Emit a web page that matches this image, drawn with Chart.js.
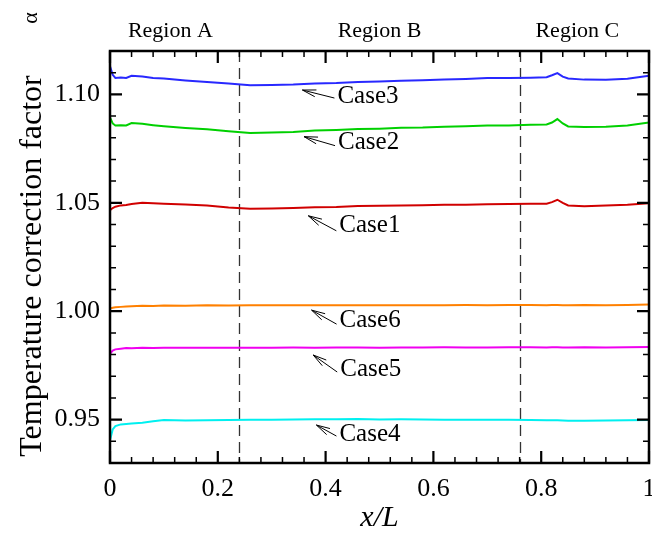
<!DOCTYPE html>
<html>
<head>
<meta charset="utf-8">
<script src="https://cdn.jsdelivr.net/npm/chart.js@4/dist/chart.umd.min.js"></script>
<style>
  html, body { margin: 0; padding: 0; background: #fff; }
  #wrap { width: 652px; height: 535px; }
</style>
</head>
<body>
<div id="wrap"><canvas id="chart" width="652" height="535"></canvas></div>
<script>
// Sample positions along the channel (x/L)
const xPos = [0, 0.005, 0.01, 0.02, 0.03, 0.04, 0.06, 0.08, 0.1, 0.14, 0.18, 0.22, 0.26, 0.3,
  0.34, 0.38, 0.42, 0.46, 0.5, 0.54, 0.58, 0.62, 0.66, 0.7, 0.74, 0.78, 0.81, 0.82, 0.83,
  0.84, 0.85, 0.88, 0.92, 0.96, 1.0];

// Temperature correction factor for each case
const case1 = [1.0466, 1.0476, 1.0482, 1.0488, 1.0490, 1.0494, 1.0500, 1.0498, 1.0496, 1.0492,
  1.0487, 1.0478, 1.0472, 1.0474, 1.0476, 1.0480, 1.0481, 1.0485, 1.0486, 1.0488, 1.0489,
  1.0491, 1.0491, 1.0493, 1.0494, 1.0496, 1.0496, 1.0503, 1.0514, 1.0500, 1.0488, 1.0484,
  1.0487, 1.0491, 1.0498];
const case2 = [1.0894, 1.0866, 1.0856, 1.0858, 1.0857, 1.0868, 1.0864, 1.0858, 1.0853, 1.0845,
  1.0839, 1.0830, 1.0822, 1.0824, 1.0827, 1.0833, 1.0836, 1.0840, 1.0842, 1.0846, 1.0847,
  1.0851, 1.0853, 1.0856, 1.0857, 1.0860, 1.0861, 1.0870, 1.0886, 1.0866, 1.0852, 1.0850,
  1.0851, 1.0856, 1.0870];
const case3 = [1.1130, 1.1090, 1.1076, 1.1078, 1.1076, 1.1086, 1.1082, 1.1076, 1.1073, 1.1064,
  1.1057, 1.1050, 1.1042, 1.1043, 1.1045, 1.1050, 1.1052, 1.1057, 1.1059, 1.1063, 1.1065,
  1.1069, 1.1071, 1.1075, 1.1076, 1.1077, 1.1079, 1.1088, 1.1098, 1.1082, 1.1073, 1.1068,
  1.1067, 1.1072, 1.1086];
const case4 = [0.9405, 0.9455, 0.9470, 0.9478, 0.9480, 0.9482, 0.9486, 0.9492, 0.9498, 0.9496,
  0.9497, 0.9498, 0.9499, 0.9499, 0.9501, 0.9502, 0.9502, 0.9503, 0.9501, 0.9502, 0.9501,
  0.9500, 0.9500, 0.9499, 0.9499, 0.9498, 0.9497, 0.9497, 0.9497, 0.9496, 0.9495, 0.9495,
  0.9496, 0.9497, 0.9498];
const case5 = [0.9804, 0.9818, 0.9824, 0.9827, 0.9830, 0.9829, 0.9831, 0.9830, 0.9832, 0.9831,
  0.9832, 0.9832, 0.9831, 0.9832, 0.9833, 0.9832, 0.9833, 0.9833, 0.9832, 0.9833, 0.9833,
  0.9834, 0.9833, 0.9833, 0.9834, 0.9834, 0.9833, 0.9834, 0.9834, 0.9833, 0.9833, 0.9834,
  0.9833, 0.9834, 0.9835];
const case6 = [1.0012, 1.0016, 1.0018, 1.0020, 1.0022, 1.0023, 1.0025, 1.0024, 1.0026, 1.0025,
  1.0027, 1.0026, 1.0028, 1.0027, 1.0027, 1.0028, 1.0027, 1.0028, 1.0028, 1.0027, 1.0028,
  1.0028, 1.0029, 1.0028, 1.0029, 1.0029, 1.0028, 1.0029, 1.0029, 1.0028, 1.0028, 1.0029,
  1.0028, 1.0029, 1.0031];

const caseNames = ['Case1', 'Case2', 'Case3', 'Case4', 'Case5', 'Case6'];
const caseColors = ['#d00000', '#00d000', '#2828ff', '#00f0f0', '#f000f0', '#ff8000'];

// Axis ticks
const xTickValues = [0, 0.2, 0.4, 0.6, 0.8, 1];
const yTickValues = [0.95, 1.00, 1.05, 1.10];

// Region boundaries and names
const regionBounds = [0.24, 0.76];
const regionNames = ['Region A', 'Region B', 'Region C'];

const SERIF = '"Liberation Serif", "Times New Roman", serif';

const seriesValues = [case1, case2, case3, case4, case5, case6];
const datasets = seriesValues.map((vals, i) => ({
  label: caseNames[i],
  data: vals.map((v, j) => ({ x: xPos[j], y: v })),
  borderColor: caseColors[i],
  backgroundColor: caseColors[i],
  borderWidth: 2,
  pointRadius: 0,
  tension: 0,
  fill: false
}));

// Arrow tip for each case label (data coords), offset of the arrow tail (px)
// and vertical offset of the label centre from the tip (px)
const labelAnchors = {
  Case3: { x: 0.357, y: 1.1020, dx: 32, dy: 8, ty: 5 },
  Case2: { x: 0.360, y: 1.0805, dx: 31, dy: 9, ty: 5 },
  Case1: { x: 0.368, y: 1.0440, dx: 28, dy: 15, ty: 9 },
  Case6: { x: 0.374, y: 1.0005, dx: 25, dy: 14, ty: 9 },
  Case5: { x: 0.377, y: 0.9798, dx: 24, dy: 17, ty: 13 },
  Case4: { x: 0.383, y: 0.9475, dx: 20, dy: 11, ty: 8 }
};
const regionLabelX = [0.112, 0.5, 0.867];

function arrow(ctx, x0, y0, x1, y1) {
  // line from (x0,y0) to tip (x1,y1) with an open head
  ctx.beginPath();
  ctx.moveTo(x0, y0);
  ctx.lineTo(x1, y1);
  const a = Math.atan2(y1 - y0, x1 - x0);
  const len = 14, spread = 0.25;
  ctx.moveTo(x1, y1);
  ctx.lineTo(x1 - len * Math.cos(a - spread), y1 - len * Math.sin(a - spread));
  ctx.moveTo(x1, y1);
  ctx.lineTo(x1 - len * Math.cos(a + spread), y1 - len * Math.sin(a + spread));
  ctx.stroke();
}

const decorPlugin = {
  id: 'decor',
  beforeDatasetsDraw(chart) {
    const { ctx, chartArea: ca, scales: { x } } = chart;
    ctx.save();
    ctx.strokeStyle = '#333';
    ctx.lineWidth = 1.3;
    ctx.setLineDash([11, 6]);
    regionBounds.forEach(b => {
      const px = Math.round(x.getPixelForValue(b)) + 0.5;
      ctx.beginPath();
      ctx.moveTo(px, ca.top);
      ctx.lineTo(px, ca.bottom);
      ctx.stroke();
    });
    ctx.restore();
  },
  afterDatasetsDraw(chart) {
    const { ctx, chartArea: ca, scales: { x, y } } = chart;
    ctx.save();
    ctx.strokeStyle = '#000';
    // inward ticks on all four sides
    ctx.lineWidth = 1.5;
    for (let k = 1; k < 25; k++) {
      const v = k * 0.04;
      if (k % 5 === 0) continue;
      const px = x.getPixelForValue(v);
      ctx.beginPath();
      ctx.moveTo(px, ca.bottom); ctx.lineTo(px, ca.bottom - 6);
      ctx.moveTo(px, ca.top); ctx.lineTo(px, ca.top + 6);
      ctx.stroke();
    }
    for (let k = 94; k <= 111; k++) {
      if (k % 5 === 0) continue;
      const py = y.getPixelForValue(k / 100);
      ctx.beginPath();
      ctx.moveTo(ca.left, py); ctx.lineTo(ca.left + 6, py);
      ctx.moveTo(ca.right, py); ctx.lineTo(ca.right - 6, py);
      ctx.stroke();
    }
    ctx.lineWidth = 2.2;
    xTickValues.forEach(v => {
      const px = x.getPixelForValue(v);
      ctx.beginPath();
      ctx.moveTo(px, ca.bottom); ctx.lineTo(px, ca.bottom - 12);
      ctx.moveTo(px, ca.top); ctx.lineTo(px, ca.top + 12);
      ctx.stroke();
    });
    yTickValues.forEach(v => {
      const py = y.getPixelForValue(v);
      ctx.beginPath();
      ctx.moveTo(ca.left, py); ctx.lineTo(ca.left + 12, py);
      ctx.moveTo(ca.right, py); ctx.lineTo(ca.right - 12, py);
      ctx.stroke();
    });
    // frame
    ctx.lineWidth = 2.5;
    ctx.strokeRect(ca.left, ca.top, ca.right - ca.left, ca.bottom - ca.top);

    // case labels with arrows
    ctx.fillStyle = '#000';
    ctx.font = '25px ' + SERIF;
    ctx.textBaseline = 'middle';
    ctx.textAlign = 'left';
    ctx.lineWidth = 1;
    caseNames.forEach(name => {
      const a = labelAnchors[name];
      const tx = x.getPixelForValue(a.x), ty = y.getPixelForValue(a.y);
      arrow(ctx, tx + a.dx, ty + a.dy, tx, ty);
      ctx.fillText(name, tx + a.dx + 3, ty + a.ty + 1);
    });

    // region names above the frame
    ctx.font = '22px ' + SERIF;
    ctx.textAlign = 'center';
    ctx.textBaseline = 'middle';
    regionNames.forEach((n, i) => ctx.fillText(n, x.getPixelForValue(regionLabelX[i]), 31));

    // axis titles
    ctx.font = 'italic 30px ' + SERIF;
    ctx.fillText('x/L', (ca.left + ca.right) / 2, 518);

    ctx.save();
    ctx.translate(33, 266);
    ctx.rotate(-Math.PI / 2);
    ctx.font = '32px ' + SERIF;
    ctx.fillText('Temperature correction factor', 0, 0);
    ctx.restore();

    ctx.save();
    ctx.translate(31, 18);
    ctx.rotate(-Math.PI / 2);
    ctx.font = '22px ' + SERIF;
    ctx.fillText('\u03b1', 0, 0);
    ctx.restore();

    ctx.restore();
  }
};

new Chart(document.getElementById('chart'), {
  type: 'line',
  data: { datasets },
  options: {
    responsive: false,
    animation: false,
    layout: { padding: { top: 51, right: 3, left: 0, bottom: 0 } },
    plugins: { legend: { display: false }, tooltip: { enabled: false } },
    scales: {
      x: {
        type: 'linear', min: 0, max: 1,
        grid: { display: false, drawTicks: false },
        border: { display: false },
        ticks: { color: '#000', padding: 11, font: { family: SERIF, size: 26 }, callback: v => String(v) },
        afterBuildTicks: s => { s.ticks = xTickValues.map(v => ({ value: v })); },
        afterFit: s => { s.height = 72; s.paddingLeft = 0; s.paddingRight = 0; }
      },
      y: {
        type: 'linear', min: 0.93, max: 1.12,
        grid: { display: false, drawTicks: false },
        border: { display: false },
        ticks: { color: '#000', padding: 10, font: { family: SERIF, size: 26 }, callback: v => Number(v).toFixed(2) },
        afterBuildTicks: s => { s.ticks = yTickValues.map(v => ({ value: v })); },
        afterFit: s => { s.width = 110; s.paddingTop = 0; s.paddingBottom = 0; }
      }
    }
  },
  plugins: [decorPlugin]
});
</script>
</body>
</html>
